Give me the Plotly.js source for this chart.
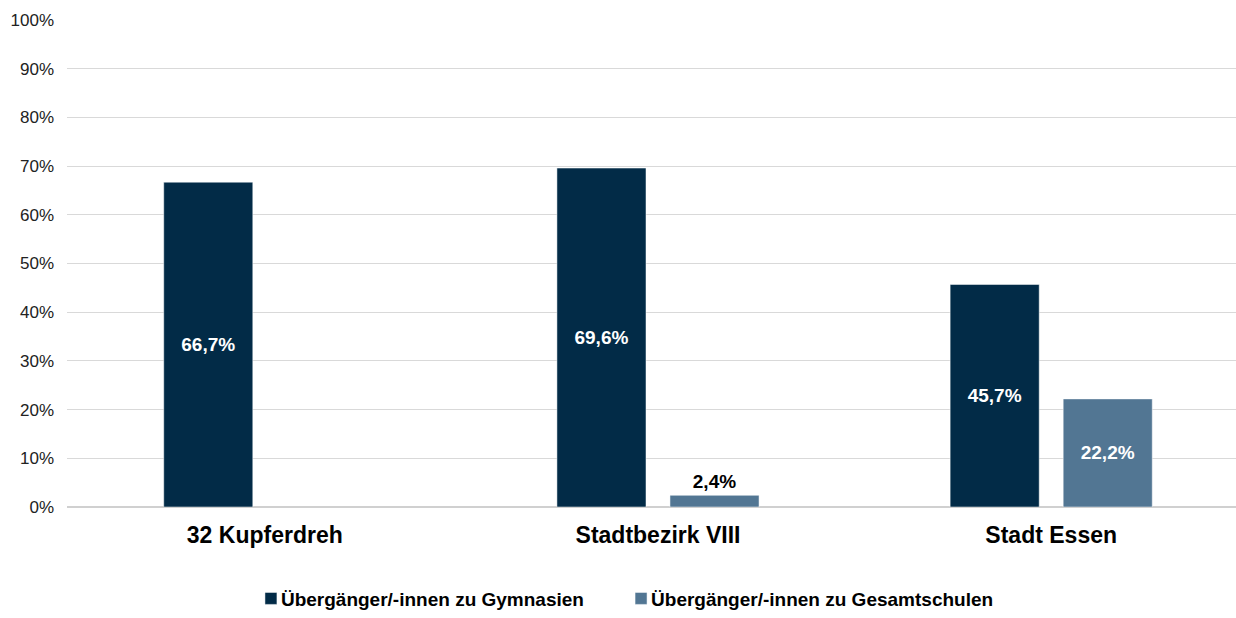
<!DOCTYPE html>
<html>
<head>
<meta charset="utf-8">
<script src="https://cdn.plot.ly/plotly-3.0.1.min.js"></script>
<style>html,body{margin:0;padding:0;background:#fff;overflow:hidden;}#chart{width:1236px;height:618px;}</style>
</head>
<body>
<div id="chart"></div>
<script>
const categories = ['32 Kupferdreh', 'Stadtbezirk VIII', 'Stadt Essen'];
const gymnasien = [66.7, 69.6, 45.7];
const gesamtschulen = [null, 2.4, 22.2];
const seriesNames = ['Übergänger/-innen zu Gymnasien', 'Übergänger/-innen zu Gesamtschulen'];

const fontFam = 'Liberation Sans, Arial, sans-serif';

const traces = [
  {
    type: 'bar', x: categories, y: gymnasien, name: seriesNames[0], legend: 'legend',
    marker: {color: '#022b47', line: {color: '#ffffff', width: 0.5}},
    texttemplate: '%{y:.1f}%', textposition: 'inside', insidetextanchor: 'middle',
    insidetextfont: {color: '#ffffff', size: 19, family: fontFam, weight: 'bold'},
    constraintext: 'none', hoverinfo: 'skip'
  },
  {
    type: 'bar', x: categories, y: gesamtschulen, name: seriesNames[1], legend: 'legend2',
    marker: {color: '#527693', line: {color: '#ffffff', width: 0.5}},
    texttemplate: '%{y:.1f}%', textposition: ['none', 'outside', 'inside'], insidetextanchor: 'middle',
    insidetextfont: {color: '#ffffff', size: 19, family: fontFam, weight: 'bold'},
    outsidetextfont: {color: '#000000', size: 19, family: fontFam, weight: 'bold'},
    constraintext: 'none', cliponaxis: false, hoverinfo: 'skip'
  }
];

const legendFont = {size: 19, family: fontFam, weight: 'bold', color: '#000'};

const layout = {
  width: 1236, height: 618,
  margin: {l: 67, r: 0, t: 20, b: 104},
  paper_bgcolor: '#ffffff', plot_bgcolor: '#ffffff',
  separators: ',.',
  barmode: 'group', bargap: 0.425, bargroupgap: 0.212,
  font: {family: fontFam, color: '#000000'},
  showlegend: true,
  legend: {orientation: 'h', x: 0.1488, xanchor: 'left', y: -0.188, yanchor: 'middle',
           font: legendFont, itemwidth: 30},
  legend2: {orientation: 'h', x: 0.4654, xanchor: 'left', y: -0.188, yanchor: 'middle',
            font: legendFont, itemwidth: 30},
  xaxis: {
    type: 'category', range: [-0.503, 2.47], showgrid: false, zeroline: false,
    showline: false, ticks: '', tickfont: {size: 23, family: fontFam, weight: 'bold', color: '#000'},
    automargin: false, ticklabelstandoff: 12
  },
  yaxis: {
    range: [0, 100], dtick: 10, ticksuffix: '%', showgrid: true, gridcolor: '#d9d9d9', gridwidth: 1,
    zeroline: true, zerolinecolor: '#d0d0d0', zerolinewidth: 2, showline: false, ticks: '',
    tickfont: {size: 17, family: fontFam, color: '#222'}, automargin: false, ticklabelstandoff: 12
  }
};

Plotly.newPlot('chart', traces, layout, {displayModeBar: false, staticPlot: true}).then(function (gd) {
  gd.querySelectorAll('.legendsymbols').forEach(function (g) {
    g.setAttribute('transform', 'translate(10,0)');
  });
});
</script>
</body>
</html>
